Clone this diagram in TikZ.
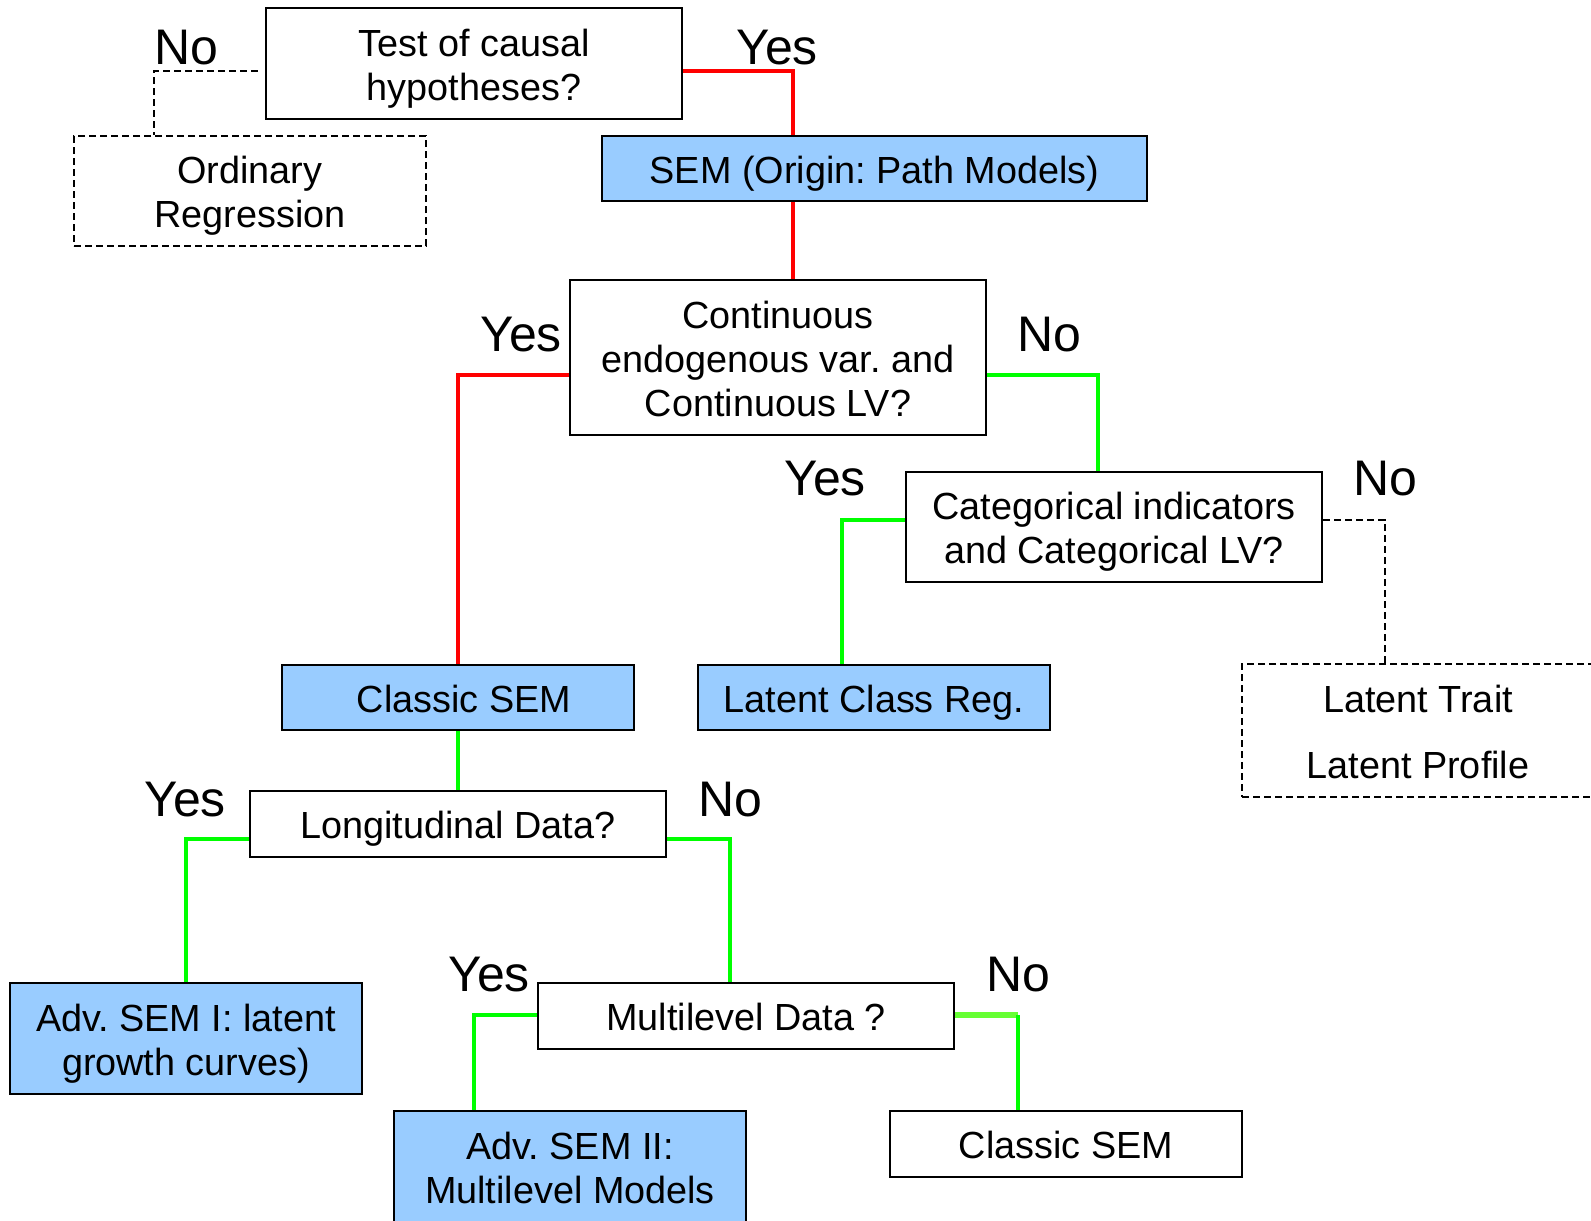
\documentclass[tikz,border=0pt]{standalone}
\usepackage{fontspec}
\setmainfont{Liberation Sans}
\frenchspacing
\definecolor{semblue}{HTML}{99CCFF}
\definecolor{pathred}{HTML}{FF0000}
\definecolor{pathgreen}{HTML}{00FF00}
\definecolor{palegreen}{HTML}{66FF33}
\begin{document}
\begin{tikzpicture}[x=0.5pt,y=-0.5pt,
  boxtext/.style={align=center, inner sep=0pt, font=\fontsize{18.9}{22}\selectfont, text depth=1.3pt},
  oneline/.style={text height=16pt},
  twolines/.style={text height=38pt},
  threelines/.style={text height=60pt},
  plainbox/.style={boxtext, draw=black, line width=1.2pt, fill=white},
  modelbox/.style={boxtext, draw=black, line width=1.2pt, fill=semblue},
  dashbox/.style={boxtext, draw=black, line width=0.9pt, dash pattern=on 3.5pt off 2pt},
  wide/.style={minimum width=208pt},
  narrow/.style={minimum width=176pt},
  answer/.style={inner sep=0pt, font=\fontsize{25}{29}\selectfont},
  redpath/.style={draw=pathred, line width=2pt},
  greenpath/.style={draw=pathgreen, line width=2pt},
  palepath/.style={draw=palegreen, line width=2.6pt},
  dashpath/.style={draw=black, line width=0.9pt, dash pattern=on 3.5pt off 2pt}
]
\useasboundingbox (0,0) rectangle (1591,1221);
\clip (0,0) rectangle (1591,1221);
\fill[white] (0,0) rectangle (1591,1221);

% decision and outcome boxes
\node[plainbox, twolines, wide, minimum height=55.5pt] (test) at (474,63.5) {Test of causal\\hypotheses?};
\node[dashbox, twolines, narrow, minimum height=55pt] (ordreg) at (250,191) {Ordinary\\Regression};
\node[modelbox, oneline, minimum width=272.5pt, minimum height=32.5pt] (sem) at (874.5,168.5) {SEM (Origin: Path Models)};
\node[plainbox, threelines, wide, minimum height=77.5pt] (cont) at (778,357.5) {Continuous\\endogenous var. and\\Continuous LV?};
\node[plainbox, twolines, wide, minimum height=55pt] (cat) at (1114,527) {Categorical indicators\\and Categorical LV?};
\node[modelbox, oneline, narrow, minimum height=32.5pt] (csem) at (458,697.5) {\hspace*{6pt}Classic SEM};
\node[modelbox, oneline, narrow, minimum height=32.5pt] (lcr) at (874,697.5) {Latent Class Reg.};
\node[dashbox, text height=49pt, narrow, minimum height=66.5pt] (ltp) at (1418,730.5) {Latent Trait\\[11pt]Latent Profile};
\node[plainbox, oneline, wide, minimum height=33pt] (long) at (458,824) {Longitudinal Data?};
\node[modelbox, twolines, narrow, minimum height=55.5pt] (adv1) at (186,1038.5) {Adv. SEM I: latent\\growth curves)};
\node[plainbox, oneline, wide, minimum height=33pt] (multi) at (746,1016) {Multilevel Data ?};
\node[modelbox, twolines, narrow, minimum height=55.5pt] (adv2) at (570,1166.5) {Adv. SEM II:\\Multilevel Models};
\node[plainbox, oneline, narrow, minimum height=33pt] (csem2) at (1066,1144) {Classic SEM};

% connectors
\draw[redpath] (test.east |- 0,71) -| (793,0 |- sem.north);
\draw[redpath] (793,0 |- sem.south) -- (793,0 |- cont.north);
\draw[redpath] (cont.west |- 0,375) -| (csem.north);
\draw[greenpath] (cont.east |- 0,375) -| (1098,0 |- cat.north);
\draw[greenpath] (cat.west |- 0,520) -| (842,0 |- lcr.north);
\draw[dashpath] (cat.east |- 0,520) -| (1385,0 |- ltp.north);
\draw[dashpath, shorten <=3.5pt] (test.west |- 0,71) -| (154,0 |- ordreg.north);
\draw[greenpath] (csem.south) -- (long.north);
\draw[greenpath] (long.west |- 0,839) -| (adv1.north);
\draw[greenpath] (long.east |- 0,839) -| (730,0 |- multi.north);
\draw[greenpath] (multi.west |- 0,1015) -| (474,0 |- adv2.north);
\coordinate (mlturn) at (1018,1015);
\draw[palepath] (multi.east |- 0,1015) -- (mlturn);
\draw[greenpath] (mlturn) -- (mlturn |- csem2.north);

% answer labels
\node[answer] (a1) at (186,48) {No};
\node[answer] (a2) at (777,48) {Yes};
\node[answer] (a3) at (521,335) {Yes};
\node[answer] (a4) at (1049,335) {No};
\node[answer] (a5) at (825,479) {Yes};
\node[answer] (a6) at (1385,479) {No};
\node[answer] (a7) at (185,800) {Yes};
\node[answer] (a8) at (730,800) {No};
\node[answer] (a9) at (489,975) {Yes};
\node[answer] (a10) at (1018,975) {No};
\end{tikzpicture}
\end{document}
